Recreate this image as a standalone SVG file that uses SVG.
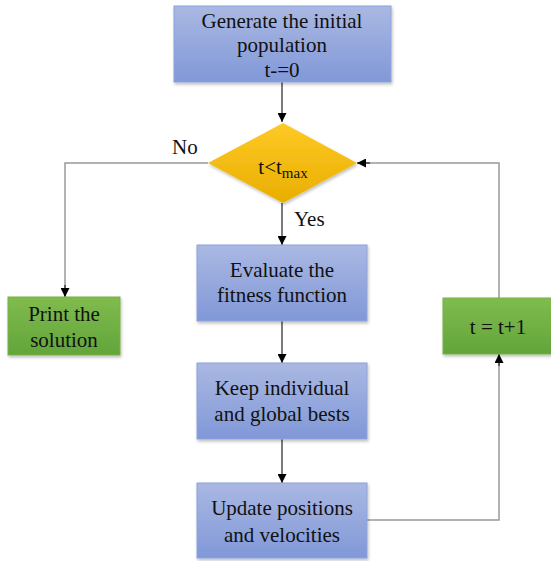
<svg xmlns="http://www.w3.org/2000/svg" width="551" height="561" viewBox="0 0 551 561" font-family="Liberation Serif, Tinos, Times New Roman, Times, Noto Serif, DejaVu Serif, serif">
<defs>
<linearGradient id="gb" x1="0" y1="0" x2="0" y2="1"><stop offset="0" stop-color="#aab8e2"/><stop offset="1" stop-color="#8198d8"/></linearGradient>
<linearGradient id="gg" x1="0" y1="0" x2="0" y2="1"><stop offset="0" stop-color="#80bb4e"/><stop offset="1" stop-color="#62a53a"/></linearGradient>
<linearGradient id="gy" x1="0" y1="0" x2="0" y2="1"><stop offset="0" stop-color="#ffc925"/><stop offset="1" stop-color="#e8ae00"/></linearGradient>
<marker id="ah" viewBox="0 0 10 10" refX="10" refY="5" markerWidth="9" markerHeight="9" markerUnits="userSpaceOnUse" orient="auto"><path d="M0,0 L10,5 L0,10 z" fill="#000"/></marker>
<filter id="sh" x="-10%" y="-10%" width="120%" height="130%"><feDropShadow dx="1" dy="2" stdDeviation="1.5" flood-color="#000" flood-opacity="0.25"/></filter>
</defs>
<style>
.bl{fill:url(#gb);stroke:#8aa2dd;stroke-width:1;filter:url(#sh)}
.gr{fill:url(#gg);stroke:#78b048;stroke-width:1;filter:url(#sh)}
.dm{fill:url(#gy);filter:url(#sh)}
text{font-size:21px;fill:#111;text-anchor:middle}
.lb{text-anchor:start}
.k{stroke:#222;stroke-width:1.2;fill:none}
.g{stroke:#999;stroke-width:1.5;fill:none}
</style>
<g id="connectors">
<path class="k" d="M282,82 V122" marker-end="url(#ah)"/>
<path class="k" d="M282,203 V245" marker-end="url(#ah)"/>
<path class="k" d="M282,321 V363" marker-end="url(#ah)"/>
<path class="k" d="M282,439 V483" marker-end="url(#ah)"/>
<path class="g" d="M208,163 H65 V296"/>
<path class="k" d="M65,285 V297" marker-end="url(#ah)"/>
<path class="g" d="M367,520 H499 V356"/>
<path class="k" d="M499,366 V354" marker-end="url(#ah)"/>
<path class="g" d="M499,298 V163 H358"/>
<path class="k" d="M370,163 H357" marker-end="url(#ah)"/>
<text class="lb" x="172" y="154">No</text>
<text class="lb" x="294" y="226">Yes</text>
</g>
<g id="init">
<rect class="bl" x="174" y="6" width="217" height="76"/>
<text x="282" y="28">Generate the initial</text>
<text x="282" y="52">population</text>
<text x="282" y="77">t-=0</text>
</g>
<g id="decision">
<polygon class="dm" points="283,123 357,163 283,203 208,163"/>
<text x="283" y="174"><tspan>t&lt;t</tspan><tspan font-size="15" dy="4">max</tspan></text>
</g>
<g id="print">
<rect class="gr" x="8" y="297" width="112" height="58"/>
<text x="64" y="321">Print the</text>
<text x="64" y="347">solution</text>
</g>
<g id="inc">
<rect class="gr" x="443" y="298" width="110" height="56"/>
<text x="498" y="334">t = t+1</text>
</g>
<g id="evaluate">
<rect class="bl" x="197" y="245" width="170" height="76"/>
<text x="282" y="277">Evaluate the</text>
<text x="282" y="302">fitness function</text>
</g>
<g id="keep">
<rect class="bl" x="197" y="363" width="170" height="76"/>
<text x="282" y="395">Keep individual</text>
<text x="282" y="421">and global bests</text>
</g>
<g id="update">
<rect class="bl" x="197" y="483" width="170" height="75"/>
<text x="282" y="515">Update positions</text>
<text x="282" y="542">and velocities</text>
</g>
</svg>
